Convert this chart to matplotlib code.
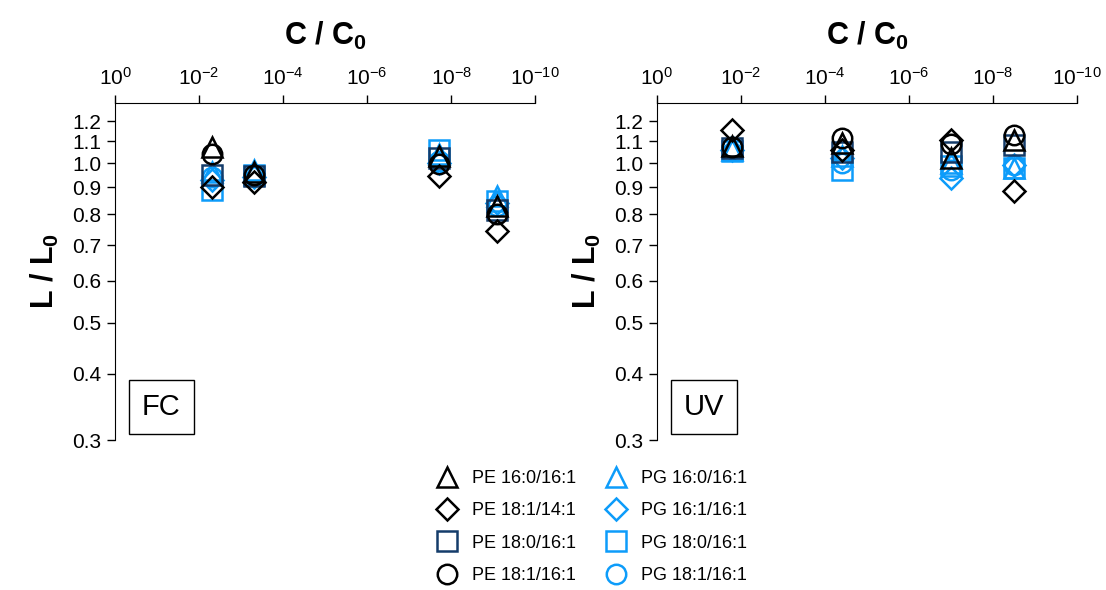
import numpy as np
import matplotlib.pyplot as plt

plt.rcParams['font.family'] = ['Liberation Sans', 'DejaVu Sans']
plt.rcParams['mathtext.fontset'] = 'custom'
plt.rcParams['mathtext.rm'] = 'Liberation Sans'
plt.rcParams['mathtext.it'] = 'Liberation Sans:italic'
plt.rcParams['mathtext.bf'] = 'Liberation Sans:bold'
plt.rcParams['mathtext.default'] = 'regular'

# concentration ratios for each panel
conc_fc = [5e-3, 5e-4, 2e-8, 8e-10]
conc_uv = [1.6e-2, 4e-5, 1e-7, 3.2e-9]

names = ['PE 16:0/16:1', 'PE 18:1/14:1', 'PE 18:0/16:1', 'PE 18:1/16:1',
         'PG 16:0/16:1', 'PG 16:1/16:1', 'PG 18:0/16:1', 'PG 18:1/16:1']
markers = ['^', 'D', 's', 'o', '^', 'D', 's', 'o']
colors = ['black', 'black', '#143c6a', 'black',
          '#0d9cfa', '#0d9cfa', '#0d9cfa', '#0d9cfa']

# L / L0 values, FC panel
fc_vals = [
    [1.07, 0.96, 1.03, 0.83],   # PE 16:0/16:1
    [0.90, 0.92, 0.945, 0.745],  # PE 18:1/14:1
    [0.95, 0.945, 1.02, 0.815],  # PE 18:0/16:1
    [1.04, 0.95, 0.995, 0.80],   # PE 18:1/16:1
    [0.96, 0.97, 1.04, 0.865],   # PG 16:0/16:1
    [0.93, 0.94, 1.00, 0.84],    # PG 16:1/16:1
    [0.89, 0.95, 1.06, 0.847],   # PG 18:0/16:1
    [0.94, 0.95, 1.01, 0.83],    # PG 18:1/16:1
]

# L / L0 values, UV panel
uv_vals = [
    [1.076, 1.092, 1.024, 1.107],  # PE 16:0/16:1
    [1.153, 1.06, 1.107, 0.884],   # PE 18:1/14:1
    [1.068, 1.047, 1.047, 1.08],   # PE 18:0/16:1
    [1.07, 1.116, 1.084, 1.132],   # PE 18:1/16:1
    [1.06, 1.03, 1.00, 0.98],      # PG 16:0/16:1
    [1.06, 1.02, 0.937, 0.993],    # PG 16:1/16:1
    [1.053, 0.972, 0.986, 0.979],  # PG 18:0/16:1
    [1.07, 1.00, 0.97, 0.99],      # PG 18:1/16:1
]

yticks = [0.3, 0.4, 0.5, 0.6, 0.7, 0.8, 0.9, 1.0, 1.1, 1.2]
xticks = [1e0, 1e-2, 1e-4, 1e-6, 1e-8, 1e-10]
xticklabels = ['$10^{0}$', '$10^{-2}$', '$10^{-4}$', '$10^{-6}$', '$10^{-8}$', '$10^{-10}$']

fig = plt.figure(figsize=(11.06, 5.90), dpi=100)
ax1 = fig.add_axes([0.104, 0.254, 0.380, 0.572])
ax2 = fig.add_axes([0.594, 0.254, 0.380, 0.572])

# PG drawn first so PE sits on top
draw_order = [4, 5, 6, 7, 2, 0, 1, 3]
handles = {}
for ax, conc, vals, tag in [(ax1, conc_fc, fc_vals, 'FC'), (ax2, conc_uv, uv_vals, 'UV')]:
    for i in draw_order:
        h, = ax.plot(conc, vals[i], linestyle='none', marker=markers[i],
                     markersize=14 if markers[i] != 'D' else 11.5,
                     markerfacecolor='none', markeredgecolor=colors[i],
                     markeredgewidth=1.8, label=names[i])
        handles[i] = h
    ax.set_xscale('log')
    ax.set_yscale('log')
    ax.set_xlim(1, 1e-10)
    ax.set_ylim(0.3, 1.3)
    ax.xaxis.tick_top()
    ax.set_xticks(xticks)
    ax.set_xticklabels(xticklabels, fontsize=15)
    ax.xaxis.set_minor_locator(plt.NullLocator())
    ax.set_yticks(yticks)
    ax.set_yticklabels(['%.1f' % v for v in yticks], fontsize=15)
    ax.yaxis.set_minor_locator(plt.NullLocator())
    ax.tick_params(direction='out', length=6, width=1, pad=4)
    ax.spines['right'].set_visible(False)
    ax.spines['bottom'].set_visible(False)
    ax.xaxis.set_label_position('top')
    ax.set_xlabel('C / C$_\\mathbf{0}$', fontsize=22, fontweight='bold', labelpad=16)
    ax.set_ylabel('L / L$_\\mathbf{0}$', fontsize=22, fontweight='bold', labelpad=8)
    ax.text(0.064, 0.056, tag, transform=ax.transAxes, fontsize=21,
            ha='left', va='bottom',
            bbox=dict(boxstyle='square,pad=0.45', facecolor='white',
                      edgecolor='black', linewidth=1))

leg_handles = [handles[i] for i in range(8)]
fig.legend(leg_handles, names, ncol=2, loc='center', bbox_to_anchor=(0.535, 0.107),
           frameon=False, fontsize=13, handletextpad=0.8, columnspacing=1.6,
           labelspacing=0.85, handlelength=1.2)

fig.savefig('out.png', dpi=100)
